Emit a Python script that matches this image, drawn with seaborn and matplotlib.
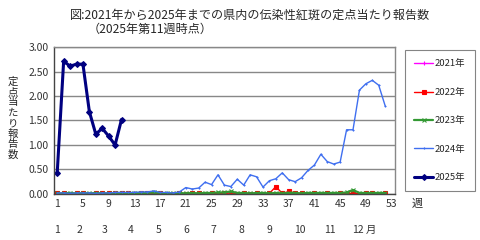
import pandas as pd
import matplotlib.pyplot as plt
import matplotlib.transforms as mtransforms
import seaborn as sns

# data
weeks = list(range(1, 53))
y2021 = [0.00, 0.01, 0.00, 0.00, 0.01, 0.00, 0.00, 0.00, 0.01, 0.00,
         0.00, 0.00, 0.01, 0.00, 0.00, 0.00, 0.01, 0.00, 0.00, 0.00,
         0.00, 0.00, 0.01, 0.00, 0.00, 0.00, 0.01, 0.00, 0.00, 0.00,
         0.00, 0.01, 0.00, 0.00, 0.00, 0.00, 0.00, 0.01, 0.00, 0.00,
         0.00, 0.00, 0.01, 0.00, 0.00, 0.00, 0.00, 0.00, 0.01, 0.00,
         0.00, 0.00]
y2022 = [0.01, 0.02, 0.00, 0.01, 0.01, 0.00, 0.01, 0.02, 0.01, 0.01,
         0.02, 0.01, 0.00, 0.01, 0.02, 0.01, 0.01, 0.00, 0.00, 0.01,
         0.00, 0.01, 0.01, 0.00, 0.01, 0.00, 0.01, 0.02, 0.00, 0.01,
         0.00, 0.01, 0.00, 0.01, 0.15, 0.01, 0.05, 0.02, 0.01, 0.00,
         0.01, 0.00, 0.01, 0.00, 0.01, 0.00, 0.02, 0.00, 0.01, 0.01,
         0.00, 0.01]
y2023 = [0.01, 0.01, 0.02, 0.01, 0.02, 0.01, 0.02, 0.01, 0.01, 0.02,
         0.02, 0.01, 0.02, 0.02, 0.02, 0.03, 0.02, 0.01, 0.01, 0.02,
         0.01, 0.02, 0.01, 0.02, 0.02, 0.03, 0.03, 0.05, 0.02, 0.02,
         0.01, 0.02, 0.02, 0.01, 0.02, 0.01, 0.02, 0.02, 0.01, 0.02,
         0.02, 0.02, 0.02, 0.02, 0.02, 0.03, 0.08, 0.02, 0.02, 0.02,
         0.02, 0.02]
y2024 = [0.02, 0.02, 0.01, 0.02, 0.02, 0.02, 0.01, 0.02, 0.02, 0.03,
         0.03, 0.03, 0.03, 0.04, 0.04, 0.06, 0.03, 0.03, 0.02, 0.04,
         0.13, 0.10, 0.12, 0.24, 0.19, 0.39, 0.18, 0.15, 0.30, 0.18,
         0.39, 0.35, 0.14, 0.27, 0.31, 0.43, 0.29, 0.25, 0.33, 0.48,
         0.59, 0.81, 0.66, 0.61, 0.65, 1.31, 1.31, 2.12, 2.25, 2.32,
         2.22, 1.80]
weeks2025 = list(range(1, 12))
y2025 = [0.43, 2.71, 2.61, 2.65, 2.65, 1.68, 1.22, 1.34, 1.18, 1.00, 1.52]

week_ticks = list(range(1, 54, 4))
month_labels = ['1', '2', '3', '4', '5', '6', '7', '8', '9', '10', '11', '12']
month_pos = [1, 4.4, 8.3, 12.4, 16.7, 21.1, 25.3, 29.7, 34.0, 38.8, 43.4, 47.7]

sns.set_theme(style="white")
plt.rcParams['font.family'] = ['Noto Sans CJK JP', 'DejaVu Sans']

fig = plt.figure(figsize=(4.8, 2.4), dpi=100)
ax = fig.add_axes([0.1125, 0.192, 0.71, 0.612])

series = [
    ('2021年', weeks, y2021, '#FF00FF', '+', 1.0, 3),
    ('2022年', weeks, y2022, '#FF0000', 's', 1.0, 2.5),
    ('2023年', weeks, y2023, '#339933', 'x', 1.6, 3),
    ('2024年', weeks, y2024, '#3F6FF0', '+', 1.0, 2),
    ('2025年', weeks2025, y2025, '#000080', 'D', 2.2, 3),
]
for lab, x, y, c, m, lw, ms in series:
    sns.lineplot(x=x, y=y, ax=ax, color=c, marker=m, linewidth=lw,
                 markersize=ms, markeredgecolor=c, markerfacecolor=c,
                 markeredgewidth=0.8, label=lab)

ax.set_xlim(0.5, 53.5)
ax.set_ylim(0, 3.0)
ax.set_yticks([0, 0.5, 1.0, 1.5, 2.0, 2.5, 3.0])
ax.set_yticklabels(['%.2f' % v for v in ax.get_yticks()])
ax.set_xticks(week_ticks)
ax.tick_params(axis='both', labelsize=7.5, length=0, colors='#333333', pad=4)
ax.yaxis.grid(True, color='#888888', linewidth=1)
ax.set_axisbelow(True)
for s in ax.spines.values():
    s.set_color('#888888')
    s.set_linewidth(1)
ax.spines['left'].set_color('#444444')
ax.spines['bottom'].set_color('#444444')
ax.set_xlabel('')
ax.set_ylabel('')

# month row under the week ticks
trans = mtransforms.blended_transform_factory(ax.transData, ax.transAxes)
for p, lab in zip(month_pos, month_labels):
    ax.text(p, -0.245, lab, transform=trans, ha='center', va='center',
            fontsize=7.5, color='#333333')
ax.text(49.8, -0.245, '月', transform=trans, ha='center', va='center',
        fontsize=7.5, color='#333333')
fig.text(412 / 480, 1 - 204 / 240, '週', ha='left', va='center', fontsize=8)

fig.text(13 / 480, 1 - 118 / 240, '\n'.join('定点当たり報告数'), ha='center',
         va='center', fontsize=7.5, linespacing=1.05, rotation=0)

fig.text(0.52, 1 - 15 / 240, '図:2021年から2025年までの県内の伝染性紅斑の定点当たり報告数',
         ha='center', va='center', fontsize=8.7)
fig.text(88 / 480, 1 - 29 / 240, '（2025年第11週時点）', ha='left', va='center',
         fontsize=8.7)

leg = ax.legend(loc='upper left', bbox_to_anchor=(405 / 480, 1 - 50 / 240),
                bbox_transform=fig.transFigure, fontsize=6.8, frameon=True,
                fancybox=False, edgecolor='#666666', labelspacing=2.05,
                handlelength=2.0, handletextpad=0.15, borderpad=1.0,
                borderaxespad=0)
leg.get_frame().set_linewidth(0.8)

plt.savefig('out.png', dpi=100)
